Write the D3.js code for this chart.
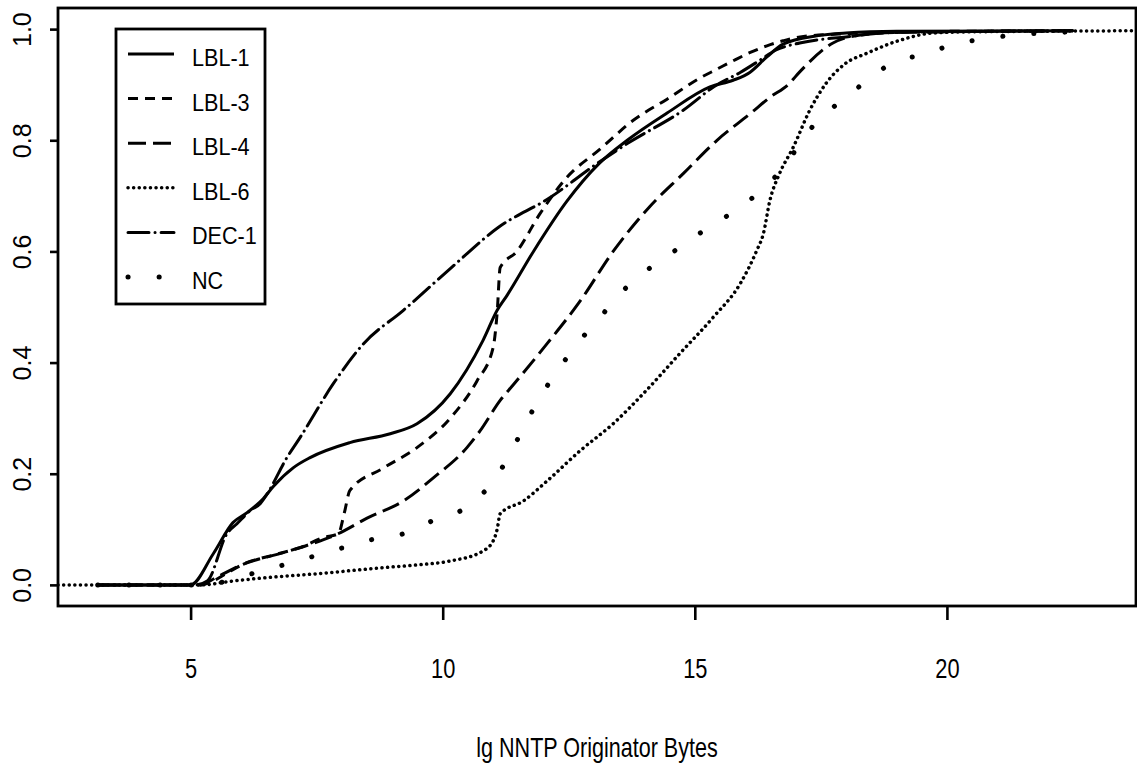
<!DOCTYPE html>
<html><head><meta charset="utf-8">
<script src="https://cdn.jsdelivr.net/npm/d3@7"></script>
<style>body{margin:0;background:#fff}</style>
</head><body>
<svg id="chart" width="1137" height="770"></svg>
<script>
// ---------- data ----------
const seriesNames = ["LBL-1", "LBL-3", "LBL-4", "LBL-6", "DEC-1", "NC"];
const xTicks = [5, 10, 15, 20];
const yTicks = [0.0, 0.2, 0.4, 0.6, 0.8, 1.0];
const xTitle = "lg NNTP Originator Bytes";

const LBL1 = [[3.16,0],[5.0,0],[5.45,0.056],[5.84,0.112],[6.12,0.13],[6.44,0.155],[6.64,0.177],[7.04,0.211],[7.37,0.229],[8.16,0.256],[8.96,0.272],[9.49,0.29],[10.15,0.344],[10.8,0.44],[11.08,0.494],[11.27,0.52],[11.8,0.6],[12.46,0.69],[13.1,0.758],[13.66,0.8],[14.45,0.849],[15.3,0.896],[15.76,0.908],[16.09,0.922],[16.43,0.95],[16.75,0.973],[17.42,0.988],[18.0,0.993],[19.0,0.996],[22.5,0.997]];
const LBL3 = [[3.16,0],[5.2,0],[5.4,0.005],[5.7,0.02],[6.04,0.037],[6.7,0.055],[7.17,0.067],[7.63,0.085],[7.93,0.092],[8.05,0.13],[8.16,0.17],[8.82,0.21],[9.49,0.247],[10.15,0.30],[10.68,0.367],[11.0,0.427],[11.08,0.49],[11.14,0.571],[11.47,0.6],[11.93,0.668],[12.46,0.733],[13.12,0.784],[13.78,0.836],[14.45,0.874],[15.1,0.912],[15.44,0.928],[15.76,0.943],[16.1,0.958],[16.43,0.97],[16.75,0.979],[17.09,0.986],[18.07,0.992],[19.0,0.995],[22.5,0.997]];
const LBL4 = [[3.16,0],[5.2,0],[5.5,0.013],[6.04,0.037],[6.84,0.058],[7.37,0.073],[7.9,0.091],[8.5,0.12],[9.22,0.151],[9.82,0.193],[10.48,0.247],[10.74,0.277],[11.14,0.332],[11.4,0.36],[12.07,0.434],[12.72,0.51],[13.38,0.6],[14.1,0.68],[14.77,0.74],[15.44,0.8],[16.1,0.848],[16.5,0.878],[16.85,0.9],[17.09,0.924],[17.74,0.975],[18.07,0.986],[19.0,0.994],[22.5,0.997]];
const LBL6 = [[2.37,0],[5.2,0],[5.84,0.007],[6.5,0.013],[7.5,0.02],[8.82,0.031],[9.5,0.036],[10.15,0.043],[10.8,0.061],[11.0,0.079],[11.08,0.1],[11.14,0.128],[11.6,0.151],[12.07,0.187],[12.72,0.241],[13.38,0.29],[14.04,0.35],[14.7,0.416],[15.36,0.481],[15.9,0.542],[16.23,0.602],[16.36,0.632],[16.49,0.692],[16.68,0.74],[16.95,0.787],[17.28,0.854],[17.6,0.902],[18.0,0.939],[18.4,0.956],[19.07,0.98],[19.73,0.993],[20.4,0.995],[23.77,0.997]];
const DEC1 = [[3.16,0],[5.1,0],[5.33,0.007],[5.72,0.092],[5.92,0.11],[6.2,0.135],[6.38,0.146],[6.52,0.164],[6.91,0.229],[7.17,0.265],[7.83,0.362],[8.43,0.434],[9.22,0.494],[10.15,0.569],[11.1,0.643],[12.13,0.697],[13.06,0.758],[13.66,0.794],[14.77,0.854],[15.44,0.9],[15.9,0.922],[16.29,0.944],[16.6,0.962],[17.08,0.975],[18.0,0.986],[19.0,0.994],[22.5,0.997]];
const NC = [[3.16,0],[5.3,0],[6.0,0.015],[7.0,0.04],[8.03,0.067],[8.62,0.082],[9.22,0.092],[9.79,0.115],[10.35,0.133],[10.84,0.169],[11.24,0.22],[11.57,0.277],[11.9,0.333],[12.29,0.387],[12.69,0.436],[13.1,0.479],[13.54,0.526],[13.99,0.562],[14.49,0.594],[15.22,0.64],[15.74,0.67],[16.23,0.703],[16.7,0.745],[17.1,0.795],[17.48,0.841],[17.98,0.874],[18.46,0.912],[19.0,0.942],[19.58,0.955],[20.13,0.973],[20.72,0.982],[21.3,0.989],[21.9,0.993],[22.5,0.995]];

const seriesData = [LBL1, LBL3, LBL4, LBL6, DEC1, NC];

// ---------- styles ----------
const dashes = ["none", "10,7", "18,7", "0.1,5.5", "21,6,0.1,6", "0.1,31"];
const widths = [3, 3, 3, 3.5, 3, 5];
const caps   = ["butt", "butt", "butt", "round", "round", "round"];
const font = "'Liberation Sans',Arial,Helvetica,sans-serif";

const svg = d3.select("#chart");
const L = 58, R = 1136, T = 8, B = 606;

const x = d3.scaleLinear().domain([2.37, 23.77]).range([L, 1137]);
const y = d3.scaleLinear().domain([-0.038, 1.038]).range([B, T]);

svg.append("defs").append("clipPath").attr("id", "clip")
  .append("rect").attr("x", L).attr("y", T).attr("width", R - L).attr("height", B - T);

// curves
const line = d3.line().x(d => x(d[0])).y(d => y(d[1])).curve(d3.curveMonotoneX);
const g = svg.append("g").attr("clip-path", "url(#clip)");
seriesData.forEach((s, i) => {
  g.append("path").datum(s).attr("d", line)
    .attr("fill", "none").attr("stroke", "#000")
    .attr("stroke-width", widths[i])
    .attr("stroke-dasharray", dashes[i])
    .attr("stroke-linecap", caps[i])
    .attr("stroke-linejoin", "round");
});

// box
svg.append("rect").attr("x", L).attr("y", T).attr("width", R - L).attr("height", B - T)
  .attr("fill", "none").attr("stroke", "#000").attr("stroke-width", 2.8);

// y axis
const ya = svg.append("g").attr("transform", `translate(${L},0)`)
  .call(d3.axisLeft(y).tickValues(yTicks).tickSize(8).tickFormat(d3.format(".1f")));
ya.select(".domain").remove();
ya.selectAll(".tick line").attr("stroke", "#000").attr("stroke-width", 2.6);
ya.selectAll(".tick text")
  .attr("x", null).attr("dy", null)
  .attr("transform", "translate(-36,0) rotate(-90)")
  .attr("text-anchor", "middle").attr("dominant-baseline", "central")
  .style("font-family", font).style("font-size", "25px").attr("fill", "#000");

// x axis
const xa = svg.append("g").attr("transform", `translate(0,${B})`)
  .call(d3.axisBottom(x).tickValues(xTicks).tickSize(14).tickFormat(d3.format("d")));
xa.select(".domain").remove();
xa.selectAll(".tick line").attr("stroke", "#000").attr("stroke-width", 2.6);
xa.selectAll(".tick text").attr("y", 0).attr("dy", null)
  .attr("transform", "translate(0,72) scale(0.78,1)")
  .style("font-family", font).style("font-size", "28px").attr("fill", "#000");

// x title
svg.append("text")
  .attr("transform", "translate(597,757) scale(0.77,1)")
  .attr("text-anchor", "middle")
  .style("font-family", font).style("font-size", "28px").text(xTitle);

// legend
const lg = svg.append("g");
lg.append("rect").attr("x", 116).attr("y", 29).attr("width", 149).attr("height", 275)
  .attr("fill", "#fff").attr("stroke", "#000").attr("stroke-width", 2.8);
seriesNames.forEach((n, i) => {
  const yy = 54 + i * 44.6;
  lg.append("line").attr("x1", 128).attr("x2", 174).attr("y1", yy).attr("y2", yy)
    .attr("stroke", "#000").attr("stroke-width", widths[i])
    .attr("stroke-dasharray", dashes[i]).attr("stroke-linecap", caps[i]);
  lg.append("text")
    .attr("transform", `translate(192,${yy + 12}) scale(0.9,1)`)
    .style("font-family", font).style("font-size", "24px").text(n);
});
</script>
</body></html>
